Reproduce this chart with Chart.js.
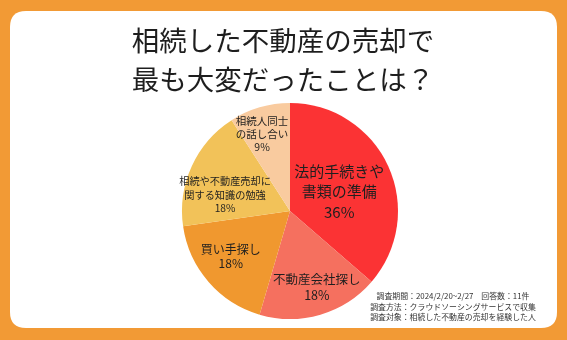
<!DOCTYPE html>
<html lang="ja">
<head>
<meta charset="utf-8">
<script src="https://cdn.jsdelivr.net/npm/chart.js@4/dist/chart.umd.min.js"></script>
<style>
  html, body { margin: 0; padding: 0; background: #F29A35; }
  #wrap { width: 567px; height: 340px; position: relative; }
</style>
</head>
<body>
<div id="wrap"><canvas id="c" width="567" height="340"></canvas></div>
<script>
// Survey answers (share of respondents, %)
const categories = [
  '法的手続きや\n書類の準備',
  '不動産会社探し',
  '買い手探し',
  '相続や不動産売却に\n関する知識の勉強',
  '相続人同士\nの話し合い'
];
const shares = [36, 18, 18, 18, 9];

const titleLines = ['相続した不動産の売却で', '最も大変だったことは？'];
const noteLines = [
  '調査期間：2024/2/20~2/27　回答数：11件',
  '調査方法：クラウドソーシングサービスで収集',
  '調査対象：相続した不動産の売却を経験した人'
];

const sliceColors = ['#FB3334', '#F5705F', '#F0982F', '#F2C259', '#F9CB9F'];

// Label styling per slice: font size, line height, radial fraction, angle nudge (deg)
const labelStyle = [
  { size: 15,   lh: 20.5, r: 0.49, nudge: 3 },
  { size: 12.5, lh: 16.5, r: 0.75, nudge: -3 },
  { size: 12,   lh: 14.5, r: 0.69, nudge: 3.5 },
  { size: 10.2, lh: 13.4, r: 0.62, nudge: -10.5 },
  { size: 10.5, lh: 13.2, r: 0.76, nudge: -3.5 }
];

const FONT = "'Noto Sans CJK JP', 'Noto Sans', sans-serif";

function roundRect(ctx, x, y, w, h, r) {
  ctx.beginPath();
  ctx.moveTo(x + r, y);
  ctx.lineTo(x + w - r, y);
  ctx.quadraticCurveTo(x + w, y, x + w, y + r);
  ctx.lineTo(x + w, y + h - r);
  ctx.quadraticCurveTo(x + w, y + h, x + w - r, y + h);
  ctx.lineTo(x + r, y + h);
  ctx.quadraticCurveTo(x, y + h, x, y + h - r);
  ctx.lineTo(x, y + r);
  ctx.quadraticCurveTo(x, y, x + r, y);
  ctx.closePath();
}

const framePlugin = {
  id: 'frame',
  beforeDraw(chart) {
    const ctx = chart.ctx;
    ctx.save();
    ctx.fillStyle = '#F29A35';
    ctx.fillRect(0, 0, chart.width, chart.height);
    ctx.fillStyle = '#FFFFFF';
    roundRect(ctx, 10, 11, 547, 317, 16);
    ctx.fill();

    // heading
    ctx.fillStyle = '#1E1E1E';
    ctx.font = '400 27.5px ' + FONT;
    ctx.textAlign = 'center';
    ctx.textBaseline = 'middle';
    ctx.fillText(titleLines[0], 283, 41);
    ctx.fillText(titleLines[1], 283, 80);

    // survey notes
    ctx.fillStyle = '#333333';
    ctx.font = '400 7.9px ' + FONT;
    noteLines.forEach((t, i) => ctx.fillText(t, 453, 296 + i * 10.5));
    ctx.restore();
  }
};

const sliceLabelPlugin = {
  id: 'sliceLabels',
  afterDatasetsDraw(chart) {
    const ctx = chart.ctx;
    const meta = chart.getDatasetMeta(0);
    ctx.save();
    ctx.fillStyle = '#1F1F1F';
    ctx.textAlign = 'center';
    ctx.textBaseline = 'middle';
    meta.data.forEach((arc, i) => {
      const p = arc.getProps(['x', 'y', 'startAngle', 'endAngle', 'outerRadius'], true);
      const st = labelStyle[i];
      const a = (p.startAngle + p.endAngle) / 2 + st.nudge * Math.PI / 180;
      const cx = p.x + Math.cos(a) * p.outerRadius * st.r;
      const cy = p.y + Math.sin(a) * p.outerRadius * st.r;
      const lines = categories[i].split('\n').concat([shares[i] + '%']);
      ctx.font = '400 ' + st.size + 'px ' + FONT;
      const top = cy - (lines.length - 1) * st.lh / 2;
      lines.forEach((t, k) => ctx.fillText(t, cx, top + k * st.lh));
    });
    ctx.restore();
  }
};

new Chart(document.getElementById('c'), {
  type: 'pie',
  data: {
    labels: categories.map(c => c.replace('\n', '')),
    datasets: [{
      data: shares,
      backgroundColor: sliceColors,
      borderWidth: 0
    }]
  },
  options: {
    responsive: false,
    devicePixelRatio: 1,
    animation: false,
    layout: { padding: { top: 103, bottom: 21, left: 182, right: 169 } },
    plugins: {
      legend: { display: false },
      tooltip: { enabled: false },
      title: { display: false }
    }
  },
  plugins: [framePlugin, sliceLabelPlugin]
});
</script>
</body>
</html>
